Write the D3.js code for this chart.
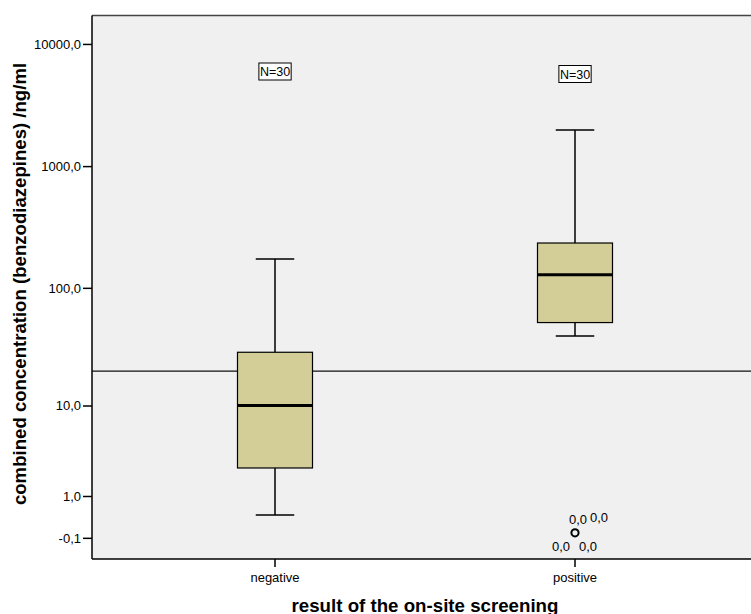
<!DOCTYPE html>
<html lang="en">
<head>
  <meta charset="UTF-8">
  <title>Boxplot</title>
  <script src="https://d3js.org/d3.v7.min.js"></script>
  <style>
    body { margin: 0; background: #fff; }
    text { font-family: "Liberation Sans", Arial, sans-serif; fill: #000; }
  </style>
</head>
<body>
<svg width="751" height="614"></svg>
<script>
  // box statistics per category (ng/ml)
  var categories = ["negative", "positive"];
  var whiskerLow = [0.40, 39.8];
  var q1 = [2.39, 51.5];
  var median = [10, 128];
  var q3 = [29, 234];
  var whiskerHigh = [173, 1975];
  var counts = [30, 30];
  // outliers of the positive group (four cases at 0)
  var outlierCategory = ["positive", "positive", "positive", "positive"];
  var outlierValues = [0, 0, 0, 0];
  var cutoff = 20;
  var yTicks = [-0.1, 1, 10, 100, 1000, 10000];

  var svg = d3.select("svg");
  var plotL = 92, plotR = 760, plotT = 15.5, plotB = 559;

  var fmt = d3.formatLocale({ decimal: ",", thousands: "", grouping: [3], currency: ["", ""], minus: "-" }).format(".1f");

  var x = d3.scaleBand().domain(categories).range([125, 725]);
  var y = d3.scaleSymlog().constant(1).domain([-0.639, 17090]).range([plotB, plotT]);

  // plot background
  svg.append("rect")
    .attr("x", plotL).attr("y", plotT)
    .attr("width", plotR - plotL).attr("height", plotB - plotT)
    .attr("fill", "#f0f0f0");
  svg.append("line")
    .attr("x1", plotL).attr("x2", plotR).attr("y1", plotT).attr("y2", plotT)
    .attr("stroke", "#444").attr("stroke-width", 1.5);

  // reference line
  svg.append("line")
    .attr("x1", plotL).attr("x2", plotR)
    .attr("y1", y(cutoff)).attr("y2", y(cutoff))
    .attr("stroke", "#111").attr("stroke-width", 1.2);

  var boxW = x.bandwidth() * 0.25, capW = boxW / 2;
  var g = svg.append("g");
  categories.forEach(function(c, i) {
    var cx = x(c) + x.bandwidth() / 2;
    g.append("line").attr("x1", cx).attr("x2", cx)
      .attr("y1", y(whiskerHigh[i])).attr("y2", y(whiskerLow[i]))
      .attr("stroke", "#000").attr("stroke-width", 1.5);
    [whiskerHigh[i], whiskerLow[i]].forEach(function(v) {
      g.append("line").attr("x1", cx - capW / 2 - 0.5).attr("x2", cx + capW / 2 + 0.5)
        .attr("y1", y(v)).attr("y2", y(v))
        .attr("stroke", "#000").attr("stroke-width", 1.5);
    });
    g.append("rect")
      .attr("x", cx - boxW / 2).attr("width", boxW)
      .attr("y", y(q3[i])).attr("height", y(q1[i]) - y(q3[i]))
      .attr("fill", "#d3ce97").attr("stroke", "#000").attr("stroke-width", 1.2);
    g.append("line").attr("x1", cx - boxW / 2).attr("x2", cx + boxW / 2)
      .attr("y1", y(median[i])).attr("y2", y(median[i]))
      .attr("stroke", "#000").attr("stroke-width", 3);

    // N label
    var ny = i === 0 ? 71.5 : 74;
    var t = svg.append("text").attr("x", cx).attr("y", ny + 4.5)
      .attr("text-anchor", "middle").style("font-size", "12.5px")
      .text("N=" + counts[i]);
    var bb = t.node().getBBox();
    svg.insert("rect", "text")
      .attr("x", bb.x - 1).attr("y", ny - 8.5)
      .attr("width", bb.width + 2).attr("height", 17)
      .attr("fill", "#fff").attr("stroke", "#000").attr("stroke-width", 1);
  });

  // outliers and case labels
  var labelOffsets = [[-6, -9], [15, -11], [-23, 18], [4, 18]];
  outlierValues.forEach(function(v, i) {
    var cx = x(outlierCategory[i]) + x.bandwidth() / 2;
    if (i === 0) {
      g.append("circle").attr("cx", cx).attr("cy", y(v)).attr("r", 3.6)
        .attr("fill", "none").attr("stroke", "#000").attr("stroke-width", 2);
    }
    svg.append("text")
      .attr("x", cx + labelOffsets[i][0]).attr("y", y(v) + labelOffsets[i][1])
      .style("font-size", "13px")
      .text(fmt(v));
  });

  // axes
  var yAxis = d3.axisLeft(y).tickValues(yTicks).tickFormat(fmt).tickSize(9).tickPadding(2);
  var ya = svg.append("g").attr("transform", "translate(" + plotL + ",0)").call(yAxis);
  ya.select(".domain").attr("d", "M0," + plotT + "V" + plotB).attr("stroke", "#000").attr("stroke-width", 1.5);
  ya.selectAll(".tick line").attr("stroke", "#000").attr("stroke-width", 1.5);
  ya.selectAll("text").style("font-size", "13px").attr("fill", "#000")
    .style("font-family", "'Liberation Sans', Arial, sans-serif");

  var xAxis = d3.axisBottom(x).tickSize(8).tickPadding(6).tickSizeOuter(0);
  var xa = svg.append("g").attr("transform", "translate(0," + plotB + ")").call(xAxis);
  xa.select(".domain").attr("d", "M" + plotL + ",0H" + plotR).attr("stroke", "#000").attr("stroke-width", 1.5);
  xa.selectAll(".tick line").attr("stroke", "#000").attr("stroke-width", 1.5);
  xa.selectAll("text").style("font-size", "13px").attr("fill", "#000")
    .style("font-family", "'Liberation Sans', Arial, sans-serif");

  svg.append("text")
    .attr("x", 425).attr("y", 612)
    .attr("text-anchor", "middle")
    .style("font-size", "18.7px").style("font-weight", "bold")
    .text("result of the on-site screening");

  svg.append("text")
    .attr("transform", "translate(26,284) rotate(-90)")
    .attr("text-anchor", "middle")
    .style("font-size", "18.6px").style("font-weight", "bold")
    .text("combined concentration (benzodiazepines) /ng/ml");
</script>
</body>
</html>
